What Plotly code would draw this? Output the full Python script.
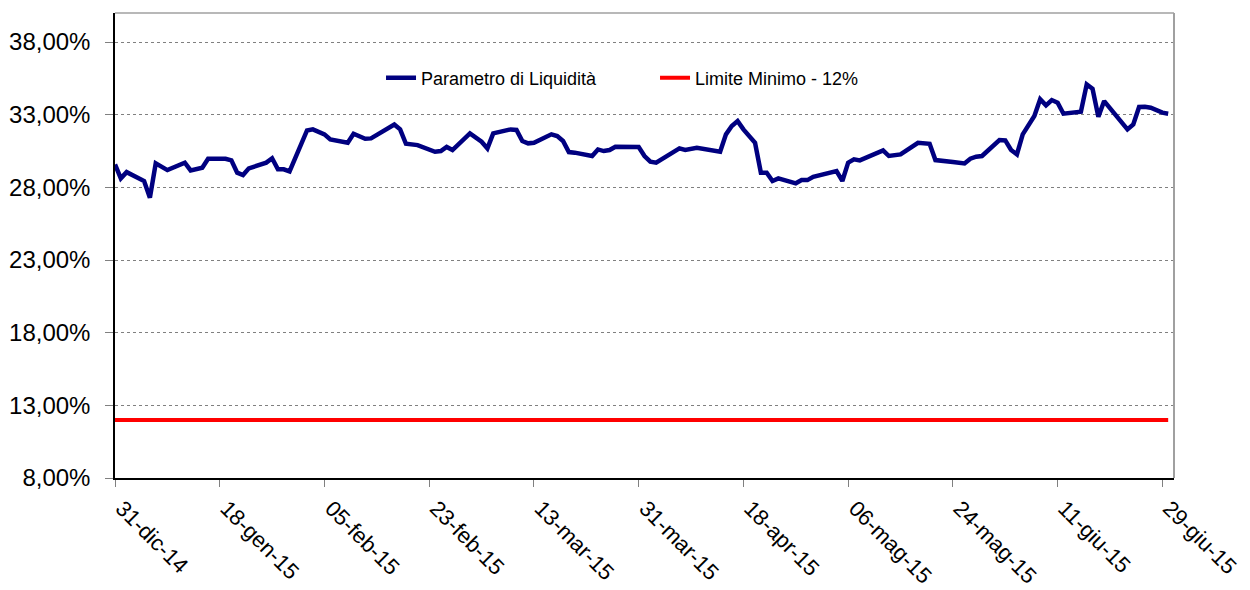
import plotly.graph_objects as go

# Parametro di Liquidità (valori in %)
dates = [
    "2014-12-31", "2015-01-01", "2015-01-02", "2015-01-05", "2015-01-06", "2015-01-07",
    "2015-01-09", "2015-01-12", "2015-01-13", "2015-01-15", "2015-01-16", "2015-01-19",
    "2015-01-20", "2015-01-21", "2015-01-22", "2015-01-23", "2015-01-26", "2015-01-27",
    "2015-01-28", "2015-01-29", "2015-01-30", "2015-02-02", "2015-02-03", "2015-02-05",
    "2015-02-06", "2015-02-09", "2015-02-10", "2015-02-12", "2015-02-13", "2015-02-16",
    "2015-02-17", "2015-02-18", "2015-02-19", "2015-02-21", "2015-02-24", "2015-02-25",
    "2015-02-26", "2015-02-27", "2015-03-02", "2015-03-04", "2015-03-05", "2015-03-06",
    "2015-03-09", "2015-03-10", "2015-03-11", "2015-03-12",
    "2015-03-13", "2015-03-16", "2015-03-17", "2015-03-18", "2015-03-19", "2015-03-20",
    "2015-03-23", "2015-03-24", "2015-03-25", "2015-03-26", "2015-03-27", "2015-03-31",
    "2015-04-01", "2015-04-02", "2015-04-03", "2015-04-07", "2015-04-08", "2015-04-10",
    "2015-04-14", "2015-04-15", "2015-04-16", "2015-04-17", "2015-04-18",
    "2015-04-20", "2015-04-21", "2015-04-22", "2015-04-23", "2015-04-24", "2015-04-27",
    "2015-04-28", "2015-04-29", "2015-04-30", "2015-05-04", "2015-05-05", "2015-05-06",
    "2015-05-07", "2015-05-08", "2015-05-12", "2015-05-13", "2015-05-15", "2015-05-18",
    "2015-05-20", "2015-05-21", "2015-05-24",
    "2015-05-26", "2015-05-27", "2015-05-28", "2015-05-29", "2015-06-01", "2015-06-02",
    "2015-06-03", "2015-06-04", "2015-06-05", "2015-06-07", "2015-06-08", "2015-06-09",
    "2015-06-10", "2015-06-11", "2015-06-12", "2015-06-15", "2015-06-16", "2015-06-17",
    "2015-06-18", "2015-06-19", "2015-06-23", "2015-06-24", "2015-06-25", "2015-06-26",
    "2015-06-27", "2015-06-29", "2015-06-30",
]
liquidita = [
    29.58, 28.62, 29.05, 28.44, 27.29, 29.65, 29.19, 29.70, 29.17, 29.35, 29.97, 29.97,
    29.86, 29.01, 28.85, 29.31, 29.70, 30.00, 29.24, 29.24, 29.10, 31.92, 31.99, 31.65,
    31.30, 31.07, 31.69, 31.35, 31.37, 32.04, 32.33, 31.99, 31.00, 30.91, 30.45, 30.50,
    30.78, 30.57, 31.72, 31.14, 30.68, 31.72, 31.99, 31.95, 31.19, 31.03,
    31.07, 31.65, 31.53, 31.19, 30.43, 30.39, 30.16, 30.61, 30.50, 30.57, 30.80, 30.78,
    30.16, 29.77, 29.70, 30.68, 30.57, 30.73, 30.45, 31.65, 32.22, 32.56, 31.99,
    31.07, 29.01, 29.01, 28.44, 28.62, 28.28, 28.50, 28.50, 28.73, 29.12, 28.44, 29.70,
    29.93, 29.86, 30.55, 30.16, 30.27, 31.07, 31.00, 29.88, 29.74,
    29.65, 29.97, 30.11, 30.16, 31.26, 31.23, 30.57, 30.27, 31.65, 32.91, 34.06, 33.64,
    34.01, 33.83, 33.07, 33.21, 35.09, 34.79, 32.86, 33.94, 31.99, 32.33, 33.53, 33.55,
    33.48, 33.14, 33.07,
]
limite = [12.0] * len(dates)

x_tickvals = [
    "2014-12-31", "2015-01-18", "2015-02-05", "2015-02-23", "2015-03-13", "2015-03-31",
    "2015-04-18", "2015-05-06", "2015-05-24", "2015-06-11", "2015-06-29",
]
x_ticktext = [
    "31-dic-14", "18-gen-15", "05-feb-15", "23-feb-15", "13-mar-15", "31-mar-15",
    "18-apr-15", "06-mag-15", "24-mag-15", "11-giu-15", "29-giu-15",
]
y_tickvals = [8, 13, 18, 23, 28, 33, 38]
y_ticktext = ["8,00%", "13,00%", "18,00%", "23,00%", "28,00%", "33,00%", "38,00%"]

assert len(dates) == len(liquidita)

FONT = "Liberation Sans, Arial, sans-serif"

fig = go.Figure()
fig.add_trace(go.Scatter(
    x=dates, y=liquidita, name="Parametro di Liquidità", mode="lines",
    line=dict(color="#000080", width=4.5),
))
fig.add_trace(go.Scatter(
    x=dates, y=limite, name="Limite Minimo - 12%", mode="lines",
    line=dict(color="#FF0000", width=4),
))

# bordo superiore e destro grigio
fig.add_shape(type="line", xref="paper", yref="paper", x0=0, x1=1, y0=1, y1=1,
              line=dict(color="#A0A0A0", width=1.5))
fig.add_shape(type="line", xref="paper", yref="paper", x0=1, x1=1, y0=0, y1=1,
              line=dict(color="#A0A0A0", width=2))

fig.update_layout(
    width=1250, height=590,
    paper_bgcolor="white", plot_bgcolor="white",
    font=dict(family=FONT, color="black", size=24),
    margin=dict(l=115, r=76, t=13, b=112),
    showlegend=True,
    legend=dict(
        orientation="h", x=0.2512, y=0.86, xanchor="left", yanchor="middle",
        font=dict(size=18), bgcolor="rgba(0,0,0,0)",
        entrywidth=229, entrywidthmode="pixels",
    ),
    xaxis=dict(
        type="date", range=["2014-12-31", "2015-07-01"], automargin=False,
        tickvals=x_tickvals, ticktext=x_ticktext, tickangle=45,
        ticks="outside", ticklen=7, tickcolor="#808080",
        showline=True, linecolor="black", linewidth=1.5,
        showgrid=False, zeroline=False,
        tickfont=dict(size=22), ticklabelshift=7,
    ),
    yaxis=dict(
        range=[8, 40], automargin=False,
        tickvals=y_tickvals, ticktext=y_ticktext,
        ticks="outside", ticklen=8, tickcolor="#808080",
        showline=True, linecolor="black", linewidth=1.5,
        showgrid=True, gridcolor="#808080", griddash="dot", gridwidth=1,
        zeroline=False, tickfont=dict(size=24), ticklabelstandoff=10,
    ),
)

# la pagina ha un margine di default: lo azzeriamo così il grafico parte da 0,0
fig.write_html(
    "out.html",
    config={"displayModeBar": False},
    post_script="document.body.style.margin='0';",
)
